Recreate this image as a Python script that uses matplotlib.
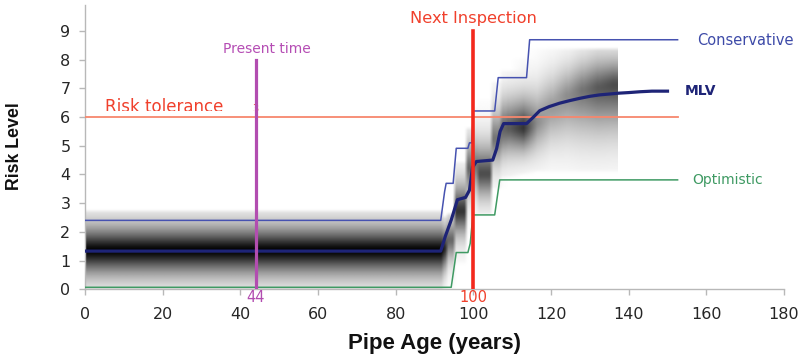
import numpy as np
import matplotlib
matplotlib.use("Agg")
import matplotlib.pyplot as plt
from matplotlib.patches import Rectangle

# ---- risk trajectories over pipe age (years) ----
mlv_age = [0, 91.6, 92.8, 94.3, 95.9, 98.0, 99.0, 99.8, 100.8, 105.0, 106.0,
           106.9, 107.8, 113.7, 115.5, 117.1, 119.5, 122.2, 124.8, 127.4,
           130.0, 132.5, 135.0, 137.5, 140.0, 143.0, 146.0, 150.0]
mlv_risk = [1.33, 1.33, 1.85, 2.41, 3.12, 3.2, 3.45, 4.25, 4.45, 4.5, 4.9,
            5.5, 5.77, 5.77, 6.0, 6.22, 6.36, 6.48, 6.57, 6.65,
            6.72, 6.77, 6.80, 6.83, 6.85, 6.88, 6.9, 6.9]

cons_age = [0, 91.6, 92.6, 93.0, 94.8, 95.6, 98.6, 99.0, 99.6, 100.0,
            105.5, 106.4, 113.7, 114.5, 152.6]
cons_risk = [2.4, 2.4, 3.4, 3.69, 3.69, 4.91, 4.91, 5.1, 5.1, 6.21,
             6.21, 7.37, 7.37, 8.69, 8.69]

opt_age = [0, 94.3, 95.6, 98.6, 99.2, 99.9, 105.5, 106.8, 152.6]
opt_risk = [0.07, 0.07, 1.28, 1.28, 1.6, 2.59, 2.59, 3.81, 3.81]

risk_tolerance = 6.0
tolerance_end = 152.6
present_age = 44
present_top = 8.0
inspection_age = 100
inspection_top = 9.0

# ---- probability shading: one column block per age interval ----
shade_edges = [0, 92, 93, 95, 98, 100, 101, 104.5, 107, 111, 114.5, 118,
               122, 126, 130, 134, 137]
shade_mid = [1.33, 1.4, 1.7, 2.7, 4.2, 4.3, 4.0, 5.2, 5.6, 5.6, 5.8, 6.3,
             6.7, 6.9, 7.0, 7.1]
shade_sc_lo = [0.8, 0.7, 0.7, 0.8, 0.9, 0.9, 0.8, 0.9, 0.9, 0.8, 1.0,
               1.2, 1.4, 1.5, 1.5, 1.5]
shade_sc_hi = [0.8, 0.7, 0.7, 0.9, 0.9, 0.9, 1.0, 1.0, 1.0, 1.0, 1.1,
               1.1, 1.0, 1.0, 1.0, 0.9]
shade_peak = [1.0, 0.85, 0.6, 0.8, 0.6, 0.55, 0.7, 0.55, 0.65, 0.8, 0.45,
              0.4, 0.45, 0.55, 0.65, 0.7]
shade_floor = [0, 0, 0, 0.9, 1.9, 2.5, 2.6, 3.5, 3.9, 4.0, 4.1, 4.1, 4.1,
               4.1, 4.1, 4.1]
shade_ceil = [2.7, 2.5, 2.6, 4.4, 5.6, 6.3, 6.6, 7.2, 7.6, 8.0, 8.35, 8.35,
              8.35, 8.35, 8.35, 8.35]
shade_soft_from = 106.0   # columns beyond this age blend more smoothly

x_ticks = list(range(0, 181, 20))
y_ticks = list(range(0, 10))

C_CONS = "#4652b0"
C_MLV = "#1e2477"
C_OPT = "#3f9a63"
C_TOL = "#f7876d"
C_RED = "#f3281c"
C_RED_TXT = "#f0402c"
C_PRES = "#b24db0"


def smooth(a, n, axis):
    k = np.ones(n) / n
    pad = [(0, 0), (0, 0)]
    pad[axis] = (n // 2, n // 2)
    ap = np.pad(a, pad, mode="edge")
    return np.apply_along_axis(lambda r: np.convolve(r, k, mode="valid"),
                               axis, ap)


fig = plt.figure(figsize=(8.01, 3.56), dpi=100)
ax = fig.add_axes([85 / 801, 66.7 / 356, 699 / 801, 284.3 / 356])

# shading raster
ys = np.linspace(0, 9.9, 496)
xs = np.arange(0, shade_edges[-1], 0.1) + 0.05
dark = np.zeros((len(ys), len(xs)))
for i in range(len(shade_mid)):
    sel = (xs >= shade_edges[i]) & (xs < shade_edges[i + 1])
    d = ys - shade_mid[i]
    sc = np.where(d < 0, shade_sc_lo[i], shade_sc_hi[i])
    prof = shade_peak[i] * np.exp(-(np.abs(d) / sc) ** 1.5)
    prof[(ys < shade_floor[i]) | (ys > shade_ceil[i])] = 0
    dark[:, sel] = prof[:, None]
fine = smooth(dark, 9, 1)
broad = smooth(dark, 35, 1)
w = np.clip((xs - shade_soft_from) / 3.0, 0, 1)[None, :]
dark = fine * (1 - w) + broad * w
dark = smooth(dark, 7, 0)
ax.imshow(1 - dark, cmap="gray", vmin=0, vmax=1,
          extent=[0, shade_edges[-1], 0, 9.9], origin="lower",
          aspect="auto", interpolation="bilinear", zorder=1)

# trajectories and reference lines
ax.plot(cons_age, cons_risk, color=C_CONS, lw=1.1, zorder=3)
ax.plot(opt_age, opt_risk, color=C_OPT, lw=1.1, zorder=3)
ax.plot([0, tolerance_end], [risk_tolerance, risk_tolerance], color=C_TOL,
        lw=1.3, zorder=3)
ax.plot(mlv_age, mlv_risk, color=C_MLV, lw=2.3, zorder=4)
ax.plot([present_age, present_age], [0, present_top], color=C_PRES, lw=2.3,
        zorder=5)
ax.plot([inspection_age, inspection_age], [0, inspection_top], color=C_RED,
        lw=2.6, zorder=5)

# annotations
ax.text(inspection_age, 9.42, "Next Inspection", color=C_RED_TXT,
        fontsize=11.7, ha="center", va="center", clip_on=False)
ax.text(46.9, 8.37, "Present time", color="#b54db4", fontsize=10,
        ha="center", va="center")
clip_rect = Rectangle((0, 6.2), 180, 4, transform=ax.transData)
for s, x, fs in [("Risk tolerance", 5.1, 12), ("3", 43.1, 7)]:
    t = ax.text(x, 6.16, s, color=C_RED_TXT, fontsize=fs, ha="left",
                va="baseline", zorder=2)
    t.set_clip_on(True)
    t.set_clip_path(clip_rect)

ax.text(157.6, 8.68, "Conservative", color="#3d4aa8", fontsize=10.5,
        ha="left", va="center", clip_on=False)
ax.text(154.5, 6.9, "MLV", color=C_MLV, fontsize=10, fontweight="bold",
        ha="left", va="center", clip_on=False)
ax.text(156.3, 3.82, "Optimistic", color=C_OPT, fontsize=10, ha="left",
        va="center", clip_on=False)

ax.text(present_age, -0.3, "44", color=C_PRES, fontsize=10.5, ha="center",
        va="center", clip_on=False)
ax.text(inspection_age, -0.3, "100", color=C_RED_TXT, fontsize=10.5,
        ha="center", va="center", clip_on=False)

# axes styling
ax.set_xlim(0, 180)
ax.set_ylim(0, 9.9)
ax.set_xticks(x_ticks)
ax.set_yticks(y_ticks)
for side in ("top", "right"):
    ax.spines[side].set_visible(False)
for side in ("left", "bottom"):
    ax.spines[side].set_color("#b8b8b8")
    ax.spines[side].set_linewidth(1.0)
ax.tick_params(axis="both", color="#b8b8b8", length=4.5, width=1.0,
               labelsize=11.5, labelcolor="#262626")
ax.tick_params(axis="x", pad=8.5)
ax.tick_params(axis="y", pad=6)

fig.text(15 / 801, 1 - 146 / 356, "Risk Level", rotation=90,
         family="Liberation Sans", fontweight="bold", fontsize=12.8,
         ha="center", va="center", color="#111111")
fig.text(434 / 801, 1 - 343 / 356, "Pipe Age (years)",
         family="Liberation Sans", fontweight="bold", fontsize=16,
         ha="center", va="center", color="#111111")

fig.savefig("out.png", dpi=100)
